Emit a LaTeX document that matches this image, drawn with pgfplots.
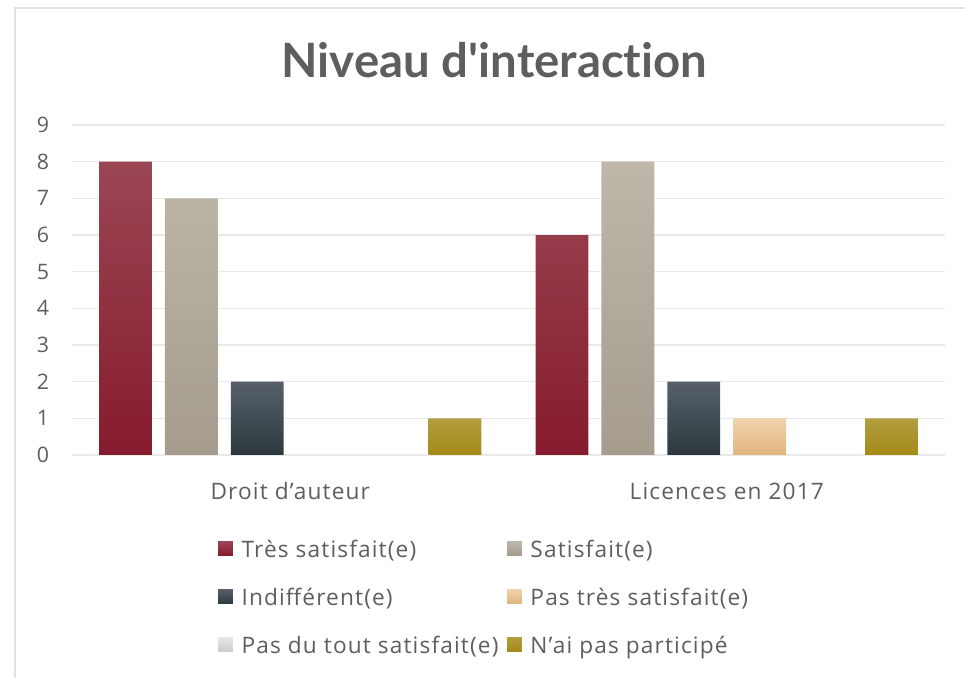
\documentclass[border=0pt]{standalone}
\usepackage{fontspec}
\setmainfont[LetterSpace=5]{Open Sans}
\newfontfamily\titlefont[Ligatures={NoCommon}]{Lato}
\usepackage{pgfplots}
\pgfplotsset{compat=1.18}
\definecolor{txt}{HTML}{5E5E5E}
\definecolor{gridc}{HTML}{E9E9E9}
\definecolor{framec}{HTML}{E2E2E2}
\definecolor{redT}{HTML}{9A4654}
\definecolor{redB}{HTML}{861B2E}
\definecolor{grayT}{HTML}{BEB7AA}
\definecolor{grayB}{HTML}{A59C8E}
\definecolor{darkT}{HTML}{57606A}
\definecolor{darkB}{HTML}{2C383E}
\definecolor{peachT}{HTML}{F2D3AE}
\definecolor{peachB}{HTML}{E2B37F}
\definecolor{lightT}{HTML}{E8E8E8}
\definecolor{lightB}{HTML}{CCCCCC}
\definecolor{goldT}{HTML}{B29D40}
\definecolor{goldB}{HTML}{A48A16}

\pgfplotstableread{
x y
0 8
1 6
}\tressat
\pgfplotstableread{
x y
0 7
1 8
}\sat
\pgfplotstableread{
x y
0 2
1 2
}\indiff
\pgfplotstableread{
x y
0 0
1 1
}\pastres
\pgfplotstableread{
x y
0 0
1 0
}\pasdutout
\pgfplotstableread{
x y
0 1
1 1
}\nai

\begin{document}
\begin{tikzpicture}
\useasboundingbox (0,0) rectangle (723.75pt,508.5pt);
\draw[framec, line width=1.5pt] (11.25pt,0pt) -- (11.25pt,502.5pt) -- (723.75pt,502.5pt);
\node[anchor=base, text=txt, font=\titlefont\bfseries\fontsize{35.5}{40}\selectfont, inner sep=0pt] at (370.9pt,450pt) {Niveau d\textquotesingle interaction};
\begin{axis}[
  at={(54pt,167.25pt)}, anchor=south west,
  scale only axis, width=654.75pt, height=247.5pt,
  xmin=-0.5, xmax=1.5, ymin=0, ymax=9,
  xtick={0,1}, xticklabels={Droit d’auteur, Licences en 2017},
  ytick={0,1,...,9},
  axis line style={draw=none},
  tick style={draw=none},
  ymajorgrids, grid style={gridc, line width=1.2pt},
  /pgf/number format/assume math mode=true,
  tick label style={font=\fontsize{17}{20}\selectfont, text=txt},
  yticklabel style={anchor=east, inner sep=0pt, xshift=-17pt, font=\fontsize{16}{19}\selectfont},
  xticklabel style={anchor=base, inner sep=0pt, yshift=-33.75pt},
  bar width=0.121,
  legend columns=2,
  legend cell align=left,
  legend image code/.code={\path[#1, draw=none] (0pt,-4.5pt) rectangle (11pt,6.5pt);},
  legend style={draw=none, fill=none, at={(0.1672,-0.2576)}, anchor=north west,
    font=\fontsize{17}{20}\selectfont, text=txt, inner sep=0pt,
    column sep=2pt, row sep=21.4pt,
    nodes={inner xsep=4.5pt, inner ysep=0pt}},
]
\addplot[ybar, bar shift=-0.3775, draw=none, top color=redT, bottom color=redB] table[x=x,y=y]{\tressat};
\addlegendentry{Très satisfait(e)}
\addplot[ybar, bar shift=-0.2265, draw=none, top color=grayT, bottom color=grayB] table[x=x,y=y]{\sat};
\addlegendentry{Satisfait(e)}
\addplot[ybar, bar shift=-0.0755, draw=none, top color=darkT, bottom color=darkB] table[x=x,y=y]{\indiff};
\addlegendentry{Indifférent(e)}
\addplot[ybar, bar shift=0.0755, draw=none, top color=peachT, bottom color=peachB,
  unbounded coords=discard, y filter/.expression={y==0 ? nan : y}] table[x=x,y=y]{\pastres};
\addlegendentry{Pas très satisfait(e)}
\addplot[ybar, bar shift=0.2265, draw=none, top color=lightT, bottom color=lightB] table[x=x,y=y]{\pasdutout};
\addlegendentry{Pas du tout satisfait(e)}
\addplot[ybar, bar shift=0.3775, draw=none, top color=goldT, bottom color=goldB] table[x=x,y=y]{\nai};
\addlegendentry{N’ai pas participé}
\end{axis}
\end{tikzpicture}
\end{document}
